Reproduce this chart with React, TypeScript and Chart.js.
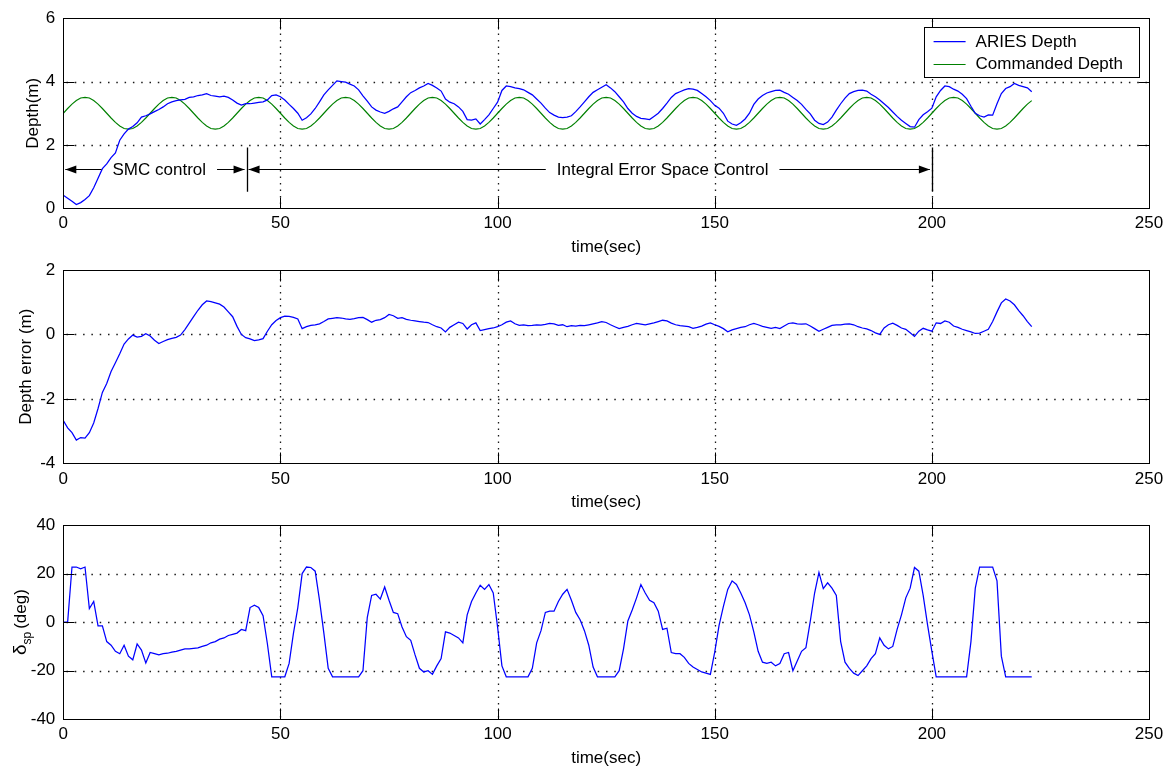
import React, { useEffect, useRef } from 'react';
import { Chart, registerables } from 'chart.js';

Chart.register(...registerables);

const FONT = '"Liberation Sans", Arial, Helvetica, sans-serif';
const FS = 17;
const SAMPLE_DT = 1; // seconds between samples

// ---------- axes ----------
const timeTicks = [0, 50, 100, 150, 200, 250];
const depthTicks = [0, 2, 4, 6];
const errorTicks = [-4, -2, 0, 2];
const sternTicks = [-40, -20, 0, 20, 40];

const xTitle = 'time(sec)';
const depthTitle = 'Depth(m)';
const errorTitle = 'Depth error (m)';
const seriesLabels = ['ARIES Depth', 'Commanded Depth'];

// ---------- annotations (top plot) ----------
const phaseLabels = ['SMC control', 'Integral Error Space Control'];
const phaseStart = [0, 42.2];
const phaseEnd = [42.2, 200];
const phaseLabelAt = [22.1, 138];
const phaseBoundaries = [42.2, 200];
const ARROW_DEPTH = 1.24;
const BAR_HI = 1.92;
const BAR_LO = 0.52;

// ---------- data (1 s samples, t = 0..223 s) ----------
const ariesDepth = [
  0.41, 0.32, 0.22, 0.12, 0.18, 0.28, 0.40, 0.65, 0.95, 1.25,
  1.40, 1.60, 1.75, 2.15, 2.35, 2.50, 2.58, 2.70, 2.88, 2.92,
  2.98, 3.05, 3.12, 3.20, 3.30, 3.36, 3.40, 3.42, 3.44, 3.50,
  3.52, 3.56, 3.58, 3.62, 3.56, 3.54, 3.52, 3.54, 3.50, 3.42,
  3.32, 3.26, 3.30, 3.30, 3.32, 3.34, 3.36, 3.42, 3.56, 3.58,
  3.52, 3.42, 3.28, 3.15, 3.00, 2.78, 2.86, 2.98, 3.15, 3.36,
  3.58, 3.74, 3.88, 4.02, 4.00, 3.98, 3.92, 3.86, 3.74, 3.55,
  3.38, 3.20, 3.10, 3.04, 3.00, 3.06, 3.14, 3.20, 3.36, 3.52,
  3.65, 3.72, 3.80, 3.86, 3.94, 3.88, 3.80, 3.70, 3.45, 3.35,
  3.30, 3.20, 3.06, 2.80, 2.78, 2.82, 2.66, 2.80, 2.95, 3.15,
  3.35, 3.72, 3.86, 3.84, 3.80, 3.78, 3.74, 3.66, 3.58, 3.45,
  3.32, 3.16, 3.02, 2.94, 2.88, 2.86, 2.88, 2.92, 3.05, 3.20,
  3.36, 3.52, 3.66, 3.74, 3.82, 3.90, 3.80, 3.68, 3.52, 3.36,
  3.15, 3.00, 2.90, 2.84, 2.82, 2.80, 2.90, 3.00, 3.15, 3.32,
  3.50, 3.62, 3.68, 3.74, 3.78, 3.76, 3.72, 3.62, 3.52, 3.40,
  3.25, 3.16, 3.00, 2.75, 2.66, 2.62, 2.70, 2.82, 3.00, 3.28,
  3.45, 3.56, 3.64, 3.68, 3.72, 3.73, 3.66, 3.60, 3.50, 3.40,
  3.28, 3.12, 2.98, 2.78, 2.68, 2.64, 2.72, 2.88, 3.10, 3.30,
  3.48, 3.62, 3.68, 3.72, 3.73, 3.70, 3.60, 3.52, 3.42, 3.30,
  3.18, 3.04, 2.90, 2.78, 2.68, 2.58, 2.56, 2.80, 2.95, 3.05,
  3.16, 3.52, 3.72, 3.86, 3.84, 3.76, 3.70, 3.60, 3.46, 3.22,
  3.00, 2.92, 2.88, 2.95, 2.94, 3.30, 3.62, 3.78, 3.84, 3.94,
  3.88, 3.84, 3.80, 3.68,
];

const commandedDepth = [
  3.00, 3.15, 3.29, 3.40, 3.48, 3.50, 3.48, 3.40, 3.29, 3.15, 3.00, 2.85, 2.71, 2.60, 2.52, 2.50, 2.52, 2.60, 2.71, 2.85,
  3.00, 3.15, 3.29, 3.40, 3.48, 3.50, 3.48, 3.40, 3.29, 3.15, 3.00, 2.85, 2.71, 2.60, 2.52, 2.50, 2.52, 2.60, 2.71, 2.85,
  3.00, 3.15, 3.29, 3.40, 3.48, 3.50, 3.48, 3.40, 3.29, 3.15, 3.00, 2.85, 2.71, 2.60, 2.52, 2.50, 2.52, 2.60, 2.71, 2.85,
  3.00, 3.15, 3.29, 3.40, 3.48, 3.50, 3.48, 3.40, 3.29, 3.15, 3.00, 2.85, 2.71, 2.60, 2.52, 2.50, 2.52, 2.60, 2.71, 2.85,
  3.00, 3.15, 3.29, 3.40, 3.48, 3.50, 3.48, 3.40, 3.29, 3.15, 3.00, 2.85, 2.71, 2.60, 2.52, 2.50, 2.52, 2.60, 2.71, 2.85,
  3.00, 3.15, 3.29, 3.40, 3.48, 3.50, 3.48, 3.40, 3.29, 3.15, 3.00, 2.85, 2.71, 2.60, 2.52, 2.50, 2.52, 2.60, 2.71, 2.85,
  3.00, 3.15, 3.29, 3.40, 3.48, 3.50, 3.48, 3.40, 3.29, 3.15, 3.00, 2.85, 2.71, 2.60, 2.52, 2.50, 2.52, 2.60, 2.71, 2.85,
  3.00, 3.15, 3.29, 3.40, 3.48, 3.50, 3.48, 3.40, 3.29, 3.15, 3.00, 2.85, 2.71, 2.60, 2.52, 2.50, 2.52, 2.60, 2.71, 2.85,
  3.00, 3.15, 3.29, 3.40, 3.48, 3.50, 3.48, 3.40, 3.29, 3.15, 3.00, 2.85, 2.71, 2.60, 2.52, 2.50, 2.52, 2.60, 2.71, 2.85,
  3.00, 3.15, 3.29, 3.40, 3.48, 3.50, 3.48, 3.40, 3.29, 3.15, 3.00, 2.85, 2.71, 2.60, 2.52, 2.50, 2.52, 2.60, 2.71, 2.85,
  3.00, 3.15, 3.29, 3.40, 3.48, 3.50, 3.48, 3.40, 3.29, 3.15, 3.00, 2.85, 2.71, 2.60, 2.52, 2.50, 2.52, 2.60, 2.71, 2.85,
  3.00, 3.15, 3.29, 3.40,
];

const depthError = [
  -2.67, -2.90, -3.05, -3.28, -3.20, -3.22, -3.05, -2.75, -2.30, -1.80,
  -1.52, -1.15, -0.88, -0.60, -0.30, -0.14, -0.02, -0.08, -0.06, 0.02,
  -0.05, -0.18, -0.28, -0.22, -0.16, -0.12, -0.09, -0.02, 0.15, 0.35,
  0.55, 0.75, 0.92, 1.04, 1.02, 0.98, 0.94, 0.85, 0.70, 0.55,
  0.25, 0.00, -0.10, -0.14, -0.19, -0.17, -0.13, 0.10, 0.30, 0.43,
  0.52, 0.57, 0.56, 0.53, 0.48, 0.18, 0.24, 0.28, 0.30, 0.33,
  0.40, 0.48, 0.50, 0.52, 0.51, 0.48, 0.47, 0.49, 0.52, 0.53,
  0.46, 0.38, 0.44, 0.46, 0.52, 0.62, 0.58, 0.50, 0.52, 0.47,
  0.44, 0.42, 0.40, 0.38, 0.37, 0.30, 0.24, 0.20, 0.08, 0.22,
  0.30, 0.38, 0.34, 0.17, 0.30, 0.36, 0.12, 0.15, 0.18, 0.20,
  0.24, 0.30, 0.38, 0.42, 0.33, 0.28, 0.30, 0.27, 0.28, 0.30,
  0.29, 0.31, 0.34, 0.33, 0.28, 0.30, 0.24, 0.27, 0.26, 0.28,
  0.27, 0.30, 0.33, 0.36, 0.40, 0.37, 0.30, 0.24, 0.18, 0.22,
  0.25, 0.30, 0.34, 0.32, 0.30, 0.33, 0.36, 0.40, 0.44, 0.42,
  0.35, 0.30, 0.27, 0.26, 0.24, 0.19, 0.22, 0.26, 0.32, 0.36,
  0.30, 0.25, 0.18, 0.08, 0.14, 0.18, 0.22, 0.24, 0.30, 0.34,
  0.30, 0.25, 0.22, 0.19, 0.22, 0.18, 0.26, 0.34, 0.36, 0.33,
  0.32, 0.33, 0.26, 0.18, 0.10, 0.16, 0.22, 0.28, 0.30, 0.30,
  0.32, 0.33, 0.30, 0.24, 0.20, 0.17, 0.12, 0.05, 0.00, 0.20,
  0.30, 0.35, 0.28, 0.20, 0.16, 0.05, -0.06, 0.10, 0.19, 0.14,
  0.10, 0.36, 0.34, 0.42, 0.38, 0.26, 0.22, 0.16, 0.12, 0.08,
  0.03, 0.04, 0.10, 0.16, 0.40, 0.70, 0.98, 1.10, 1.04, 0.92,
  0.74, 0.58, 0.40, 0.24,
];

const sternPlane = [
  0, 0, 22.7, 22.7, 22.0, 22.7, 5.6, 8.5, -1.5, -1.5,
  -8.0, -9.5, -12.0, -13.0, -9.5, -14.0, -15.5, -9.0, -11.5, -16.8,
  -12.5, -13.0, -13.5, -13.0, -12.8, -12.3, -12.0, -11.5, -11.0, -11.0,
  -10.8, -10.6, -10.0, -9.5, -8.5, -8.0, -7.0, -6.5, -5.5, -5.0,
  -4.5, -3.0, -3.5, 6.0, 7.0, 6.0, 2.7, -9.0, -22.5, -22.5,
  -22.5, -22.5, -17.0, -4.5, 6.0, 20.0, 22.7, 22.5, 21.0, 9.0,
  -4.5, -19.0, -22.5, -22.5, -22.5, -22.5, -22.5, -22.5, -22.5, -20.0,
  2.0, 11.0, 11.5, 9.5, 14.5, 9.0, 4.0, 3.5, -2.0, -6.0,
  -7.5, -13.5, -19.0, -20.5, -20.0, -21.5, -18.0, -15.0, -4.0, -4.5,
  -5.5, -6.5, -8.5, 3.0, 8.5, 12.0, 15.2, 13.5, 15.5, 12.0,
  -2.0, -18.0, -22.5, -22.5, -22.5, -22.5, -22.5, -22.5, -19.0, -8.5,
  -3.5, 4.0, 4.5, 4.5, 8.5, 11.5, 13.5, 9.0, 4.0, 1.0,
  -3.5, -9.5, -18.5, -22.5, -22.5, -22.5, -22.5, -22.5, -20.0, -11.0,
  0.5, 5.0, 10.0, 15.5, 12.0, 9.0, 8.0, 4.5, -3.0, -2.5,
  -12.5, -13.0, -13.0, -14.5, -17.0, -18.5, -19.5, -20.5, -21.0, -21.5,
  -12.3, -1.3, 6.5, 13.5, 17.0, 15.5, 12.0, 8.0, 3.0, -4.0,
  -12.0, -16.5, -17.0, -16.5, -18.0, -17.0, -13.0, -12.5, -20.0, -16.0,
  -12.0, -10.5, 0.3, 12.0, 20.5, 13.8, 16.2, 14.0, 11.0, -8.0,
  -16.5, -19.0, -21.0, -22.0, -20.0, -18.0, -15.0, -13.0, -6.5, -9.5,
  -11.0, -10.0, -3.0, 3.0, 10.0, 14.0, 22.5, 21.0, 11.0, -1.0,
  -12.0, -22.5, -22.5, -22.5, -22.5, -22.5, -22.5, -22.5, -22.5, -8.0,
  14.0, 22.7, 22.7, 22.7, 22.7, 17.0, -14.0, -22.5, -22.5, -22.5,
  -22.5, -22.5, -22.5, -22.5,
];

const toPoints = (arr: number[]) => arr.map((v, i) => ({ x: i * SAMPLE_DT, y: v }));

// ---------- drawing helpers ----------
const snap = (v: number) => Math.round(v) + 0.5;
const TICK_LEN = 11;
const GRID_COLOR = '#1a1a1a';

const matlabAxes = {
  id: 'matlabAxes',
  beforeDatasetsDraw(chart: any) {
    const { ctx, chartArea: a } = chart;
    const xs = chart.scales.x;
    const ys = chart.scales.y;
    const L = snap(a.left), R = snap(a.right), T = snap(a.top), B = snap(a.bottom);
    ctx.save();
    ctx.strokeStyle = GRID_COLOR;
    ctx.lineWidth = 1.3;
    ctx.setLineDash([1.5, 5]);
    for (const t of xs.ticks) {
      const x = snap(xs.getPixelForValue(t.value));
      if (x <= L + 1 || x >= R - 1) continue;
      ctx.beginPath(); ctx.moveTo(x, T + 2); ctx.lineTo(x, B); ctx.stroke();
    }
    ctx.setLineDash([1.5, 6.8]);
    for (const t of ys.ticks) {
      const y = snap(ys.getPixelForValue(t.value));
      if (y <= T + 1 || y >= B - 1) continue;
      ctx.beginPath(); ctx.moveTo(L + 3, y); ctx.lineTo(R, y); ctx.stroke();
    }
    ctx.restore();
  },
  afterDatasetsDraw(chart: any) {
    const { ctx, chartArea: a } = chart;
    const xs = chart.scales.x;
    const ys = chart.scales.y;
    const L = snap(a.left), R = snap(a.right), T = snap(a.top), B = snap(a.bottom);
    ctx.save();
    ctx.strokeStyle = '#000';
    ctx.lineWidth = 1;
    ctx.setLineDash([]);
    ctx.strokeRect(L, T, R - L, B - T);
    ctx.beginPath();
    for (const t of xs.ticks) {
      const x = snap(xs.getPixelForValue(t.value));
      ctx.moveTo(x, B); ctx.lineTo(x, B - TICK_LEN);
      ctx.moveTo(x, T); ctx.lineTo(x, T + TICK_LEN);
    }
    for (const t of ys.ticks) {
      const y = snap(ys.getPixelForValue(t.value));
      ctx.moveTo(L, y); ctx.lineTo(L + TICK_LEN, y);
      ctx.moveTo(R, y); ctx.lineTo(R - TICK_LEN, y);
    }
    ctx.stroke();
    ctx.restore();
  },
};

function arrowHead(ctx: CanvasRenderingContext2D, tipX: number, y: number, dir: number) {
  ctx.beginPath();
  ctx.moveTo(tipX, y);
  ctx.lineTo(tipX - dir * 11, y - 4);
  ctx.lineTo(tipX - dir * 11, y + 4);
  ctx.closePath();
  ctx.fill();
}

const phaseAnnotations = {
  id: 'phaseAnnotations',
  afterDatasetsDraw(chart: any) {
    const { ctx } = chart;
    const xs = chart.scales.x;
    const ys = chart.scales.y;
    const y = snap(ys.getPixelForValue(ARROW_DEPTH));
    ctx.save();
    ctx.strokeStyle = '#000';
    ctx.fillStyle = '#000';
    ctx.lineWidth = 1;
    ctx.font = `${FS}px ${FONT}`;
    ctx.textAlign = 'center';
    ctx.textBaseline = 'middle';
    phaseLabels.forEach((label, i) => {
      const x0 = xs.getPixelForValue(phaseStart[i]) + 2;
      const x1 = xs.getPixelForValue(phaseEnd[i]) - 2;
      const tx = xs.getPixelForValue(phaseLabelAt[i]);
      const w = ctx.measureText(label).width;
      ctx.beginPath();
      ctx.moveTo(x0, y); ctx.lineTo(tx - w / 2 - 11, y);
      ctx.moveTo(tx + w / 2 + 11, y); ctx.lineTo(x1, y);
      ctx.stroke();
      arrowHead(ctx, x0, y, -1);
      arrowHead(ctx, x1, y, 1);
      ctx.fillText(label, tx, y + 1);
    });
    const yb1 = ys.getPixelForValue(BAR_HI);
    const yb2 = ys.getPixelForValue(BAR_LO);
    ctx.lineWidth = 1.3;
    ctx.beginPath();
    phaseBoundaries.forEach((b) => {
      const x = snap(xs.getPixelForValue(b));
      ctx.moveTo(x, yb1); ctx.lineTo(x, yb2);
    });
    ctx.stroke();
    ctx.restore();
  },
};

const insideLegend = {
  id: 'insideLegend',
  afterDatasetsDraw(chart: any) {
    const { ctx, chartArea: a } = chart;
    const ds = chart.data.datasets;
    ctx.save();
    ctx.font = `${FS}px ${FONT}`;
    const maxW = Math.max(...ds.map((d: any) => ctx.measureText(d.label).width));
    const w = 52 + maxW + 16;
    const h = 50;
    const right = a.right - 10;
    const left = right - w;
    const top = a.top + 9;
    ctx.fillStyle = '#fff';
    ctx.fillRect(snap(left), snap(top), Math.round(w), h);
    ctx.strokeStyle = '#000';
    ctx.lineWidth = 1;
    ctx.strokeRect(snap(left), snap(top), Math.round(w), h);
    ds.forEach((d: any, i: number) => {
      const ry = top + 14 + i * 22.5;
      ctx.strokeStyle = d.borderColor;
      ctx.lineWidth = d.borderWidth || 1;
      ctx.beginPath();
      ctx.moveTo(left + 10, snap(ry));
      ctx.lineTo(left + 42, snap(ry));
      ctx.stroke();
      ctx.fillStyle = '#000';
      ctx.textAlign = 'left';
      ctx.textBaseline = 'middle';
      ctx.fillText(d.label, left + 52, ry + 1);
    });
    ctx.restore();
  },
};

const sternLabel = {
  id: 'sternLabel',
  afterDraw(chart: any) {
    const { ctx, chartArea: a } = chart;
    const cy = (a.top + a.bottom) / 2;
    const main = `${FS}px ${FONT}`;
    const greek = `19px ${FONT}`;
    const sub = `12px ${FONT}`;
    const gap = 3;
    ctx.save();
    ctx.fillStyle = '#000';
    ctx.font = greek;
    const w1 = ctx.measureText('δ').width;
    ctx.font = main;
    const w3 = ctx.measureText('(deg)').width;
    ctx.font = sub;
    const w2 = ctx.measureText('sp').width;
    const total = w1 + w2 + gap + w3;
    ctx.translate(26, cy);
    ctx.rotate(-Math.PI / 2);
    ctx.textAlign = 'left';
    ctx.textBaseline = 'alphabetic';
    let x = -total / 2;
    ctx.font = greek; ctx.fillText('δ', x, 0); x += w1;
    ctx.font = sub; ctx.fillText('sp', x, 5); x += w2 + gap;
    ctx.font = main; ctx.fillText('(deg)', x, 0);
    ctx.restore();
  },
};

// ---------- config ----------
type BandOpts = {
  padTop: number;
  axisH: number;
  xTickPad: number;
  xTitlePad: number;
  yMin: number;
  yMax: number;
  yTicks: number[];
  yTitle?: string;
  yTitlePad?: number;
  datasets: any[];
  plugins: any[];
};

function buildConfig(o: BandOpts): any {
  const font = { family: FONT, size: FS };
  return {
    type: 'line',
    data: { datasets: o.datasets },
    options: {
      responsive: false,
      maintainAspectRatio: false,
      animation: false,
      devicePixelRatio: 1,
      parsing: false,
      layout: { padding: { top: o.padTop, left: 0, right: 22, bottom: 0 } },
      plugins: { legend: { display: false }, tooltip: { enabled: false } },
      elements: { point: { radius: 0 }, line: { tension: 0, borderWidth: 1 } },
      scales: {
        x: {
          type: 'linear',
          min: timeTicks[0],
          max: timeTicks[timeTicks.length - 1],
          grid: { display: false, drawTicks: false },
          border: { display: false },
          afterBuildTicks: (s: any) => { s.ticks = timeTicks.map((v) => ({ value: v })); },
          afterFit: (s: any) => { s.height = o.axisH; },
          ticks: { color: '#000', font, padding: o.xTickPad, maxRotation: 0, autoSkip: false },
          title: { display: true, text: xTitle, color: '#000', font, padding: { top: 0, bottom: o.xTitlePad } },
        },
        y: {
          type: 'linear',
          min: o.yMin,
          max: o.yMax,
          grid: { display: false, drawTicks: false },
          border: { display: false },
          afterBuildTicks: (s: any) => { s.ticks = o.yTicks.map((v) => ({ value: v })); },
          afterFit: (s: any) => { s.width = 63.3; },
          ticks: { color: '#000', font, padding: 8, autoSkip: false },
          title: o.yTitle
            ? { display: true, text: o.yTitle, color: '#000', font, padding: { top: o.yTitlePad, bottom: 0 } }
            : { display: false },
        },
      },
    },
    plugins: [matlabAxes, ...o.plugins],
  };
}

const W = 1171;
const BLUE = '#0000ff';
const GREEN = '#008000';
const bands = [
  { top: 0, height: 262 },
  { top: 245, height: 275 },
  { top: 500, height: 272 },
];

export default function App() {
  const r1 = useRef<HTMLCanvasElement>(null);
  const r2 = useRef<HTMLCanvasElement>(null);
  const r3 = useRef<HTMLCanvasElement>(null);

  useEffect(() => {
    const c1 = new Chart(r1.current as HTMLCanvasElement, buildConfig({
      padTop: 15, axisH: 53.7, xTickPad: 4.5, xTitlePad: 4.8,
      yMin: 0, yMax: 6, yTicks: depthTicks, yTitle: depthTitle, yTitlePad: 22.8,
      datasets: [
        { label: seriesLabels[0], data: toPoints(ariesDepth), borderColor: BLUE, borderWidth: 1.25, pointRadius: 0 },
        { label: seriesLabels[1], data: toPoints(commandedDepth), borderColor: GREEN, borderWidth: 1.15, pointRadius: 0 },
      ],
      plugins: [phaseAnnotations, insideLegend],
    }));
    const c2 = new Chart(r2.current as HTMLCanvasElement, buildConfig({
      padTop: 25, axisH: 56.7, xTickPad: 6, xTitlePad: 7.3,
      yMin: -4, yMax: 2, yTicks: errorTicks, yTitle: errorTitle, yTitlePad: 16.5,
      datasets: [
        { label: 'Depth error', data: toPoints(depthError), borderColor: BLUE, borderWidth: 1.25, pointRadius: 0 },
      ],
      plugins: [],
    }));
    const c3 = new Chart(r3.current as HTMLCanvasElement, buildConfig({
      padTop: 25, axisH: 52.7, xTickPad: 5, xTitlePad: 3.8,
      yMin: -40, yMax: 40, yTicks: sternTicks,
      datasets: [
        { label: 'Stern plane', data: toPoints(sternPlane), borderColor: BLUE, borderWidth: 1.25, pointRadius: 0 },
      ],
      plugins: [sternLabel],
    }));
    return () => { c1.destroy(); c2.destroy(); c3.destroy(); };
  }, []);

  const refs = [r1, r2, r3];
  return (
    <div style={{ position: 'absolute', left: 0, top: 0, width: W, height: 772, background: '#fff', overflow: 'hidden' }}>
      {bands.map((b, i) => (
        <canvas
          key={i}
          ref={refs[i]}
          width={W}
          height={b.height}
          style={{ position: 'absolute', left: 0, top: b.top, width: W, height: b.height }}
        />
      ))}
    </div>
  );
}
